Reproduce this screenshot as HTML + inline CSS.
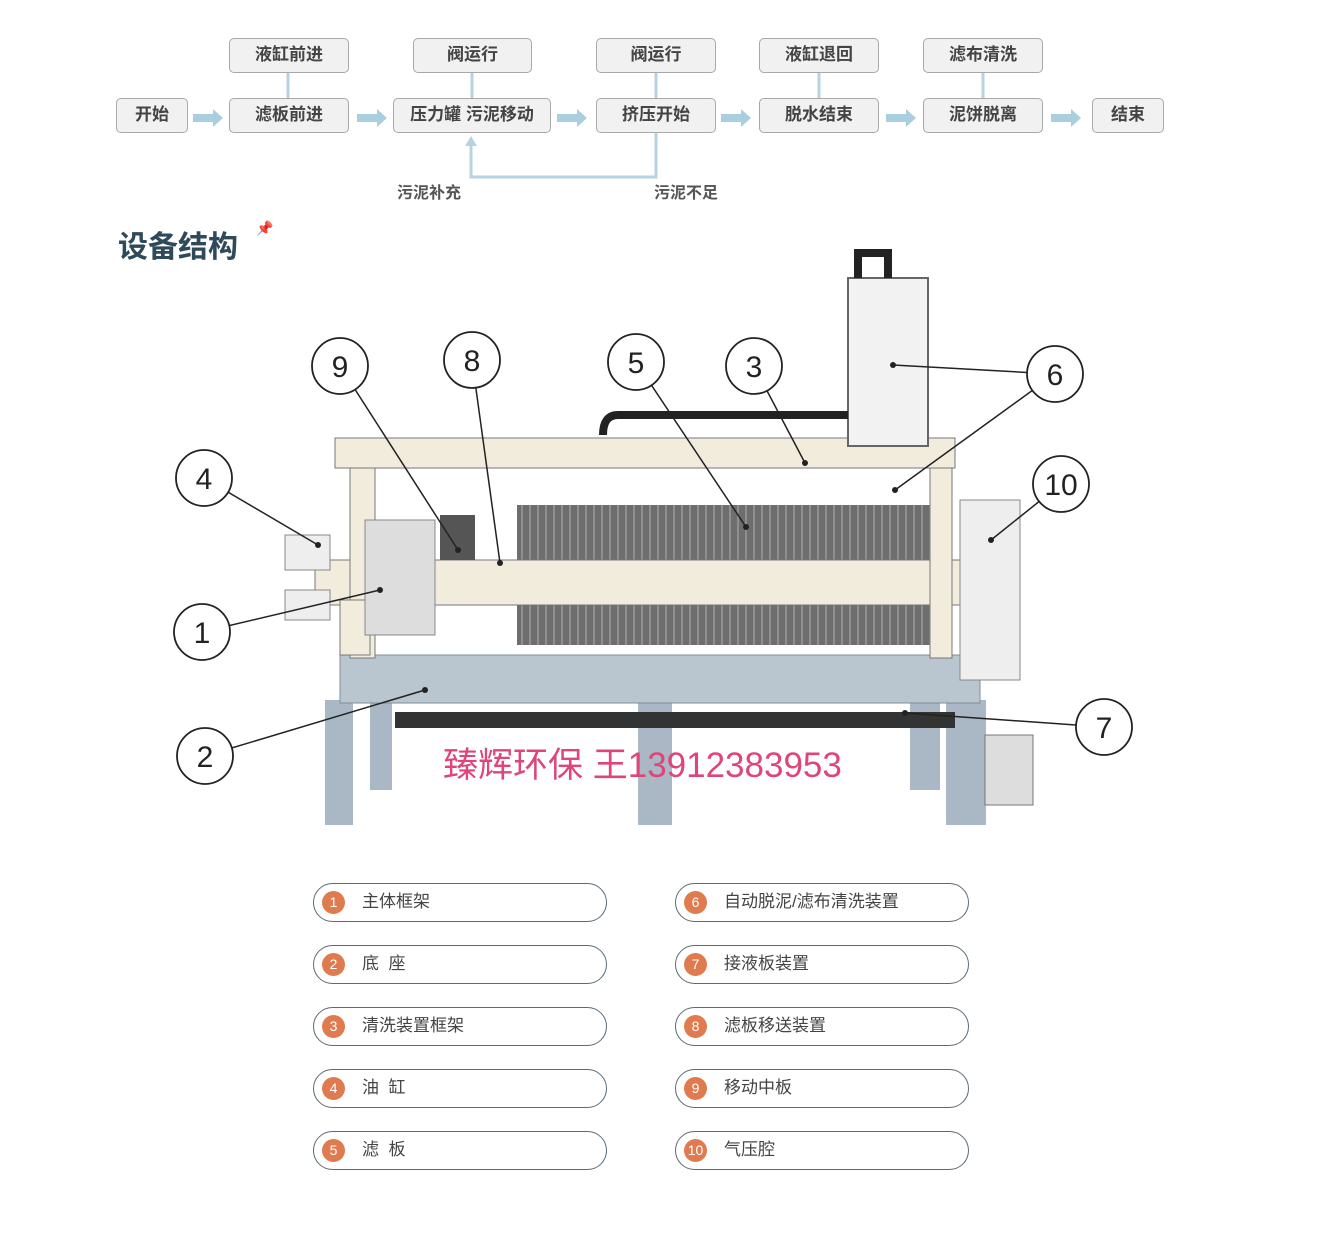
<!DOCTYPE html>
<html><head><meta charset="utf-8"><style>
body{margin:0;width:1344px;height:1241px;background:#fff;position:relative;font-family:"Liberation Sans","Noto Sans CJK SC",sans-serif;overflow:hidden}
.b{position:absolute;box-sizing:border-box;border:1.5px solid #a8a8a8;border-radius:5px;background:#f1f1f1;color:#444;font-weight:bold;font-size:17px;text-align:center;line-height:32px;height:35px}
.t{position:absolute;height:34px;line-height:31px}
.p{position:absolute;box-sizing:border-box;width:294px;height:39px;border:1.5px solid #5a6a78;border-radius:20px;font-size:17px;color:#444;line-height:36px;padding-left:48px}
.p i{position:absolute;left:8px;top:7px;width:23px;height:23px;border-radius:50%;background:#e07a4f;color:#fff;font-style:normal;font-size:14px;line-height:23px;text-align:center;}
.lab{position:absolute;font-size:16px;font-weight:bold;color:#555}
</style></head><body>
<svg width="1344" height="1241" style="position:absolute;left:0;top:0">
<g stroke="#b5d3e0" stroke-width="3">
<line x1="288" y1="72" x2="288" y2="98"/><line x1="472" y1="72" x2="472" y2="98"/><line x1="656" y1="72" x2="656" y2="98"/><line x1="819" y1="72" x2="819" y2="98"/><line x1="983" y1="72" x2="983" y2="98"/>
<polyline fill="none" points="656,133 656,177 471,177 471,144"/>
</g>
<polygon points="465,146 471,136 477,146" fill="#b5d3e0"/>
<g fill="#a9cfdf">
<path d="M193,114h20v-5l10,9l-10,9v-5h-20z"/>
<path d="M357,114h20v-5l10,9l-10,9v-5h-20z"/>
<path d="M557,114h20v-5l10,9l-10,9v-5h-20z"/>
<path d="M721,114h20v-5l10,9l-10,9v-5h-20z"/>
<path d="M886,114h20v-5l10,9l-10,9v-5h-20z"/>
<path d="M1051,114h20v-5l10,9l-10,9v-5h-20z"/>
</g>
<!-- machine -->
<g>
<rect x="325" y="700" width="28" height="125" fill="#a9b8c4"/>
<rect x="370" y="700" width="22" height="90" fill="#a9b8c4"/>
<rect x="638" y="700" width="34" height="125" fill="#a9b8c4"/>
<rect x="910" y="700" width="30" height="90" fill="#a9b8c4"/>
<rect x="946" y="700" width="40" height="125" fill="#a9b8c4"/>
<rect x="340" y="655" width="640" height="48" fill="#b9c6d0" stroke="#7d8d99"/>
<rect x="395" y="712" width="560" height="16" fill="#333"/>
<rect x="985" y="735" width="48" height="70" fill="#ddd" stroke="#777"/>
<rect x="517" y="505" width="423" height="140" fill="#6e6e6e"/>
<g stroke="#9a9a9a" stroke-width="1.5">
<path d="M522,505v140M530,505v140M538,505v140M546,505v140M554,505v140M562,505v140M570,505v140M578,505v140M586,505v140M594,505v140M602,505v140M610,505v140M618,505v140M626,505v140M634,505v140M642,505v140M650,505v140M658,505v140M666,505v140M674,505v140M682,505v140M690,505v140M698,505v140M706,505v140M714,505v140M722,505v140M730,505v140M738,505v140M746,505v140M754,505v140M762,505v140M770,505v140M778,505v140M786,505v140M794,505v140M802,505v140M810,505v140M818,505v140M826,505v140M834,505v140M842,505v140M850,505v140M858,505v140M866,505v140M874,505v140M882,505v140M890,505v140M898,505v140M906,505v140M914,505v140M922,505v140M930,505v140"/>
</g>
<rect x="315" y="560" width="685" height="45" fill="#f1ecdc" stroke="#777"/>
<rect x="335" y="438" width="620" height="30" fill="#f1ecdc" stroke="#777"/>
<rect x="350" y="468" width="25" height="190" fill="#f1ecdc" stroke="#777"/>
<rect x="930" y="468" width="22" height="190" fill="#f1ecdc" stroke="#777"/>
<rect x="340" y="600" width="30" height="55" fill="#f1ecdc" stroke="#777"/>
<rect x="285" y="535" width="45" height="35" fill="#eee" stroke="#888"/>
<rect x="285" y="590" width="45" height="30" fill="#eee" stroke="#888"/>
<rect x="365" y="520" width="70" height="115" fill="#ddd" stroke="#888"/>
<rect x="440" y="515" width="35" height="45" fill="#555"/>
<rect x="848" y="278" width="80" height="168" fill="#f2f2f2" stroke="#666" stroke-width="2"/>
<path d="M858,278v-25h30v25" fill="none" stroke="#222" stroke-width="8"/>
<path d="M848,415h-230q-15,0 -15,20" fill="none" stroke="#222" stroke-width="8"/>
<rect x="960" y="500" width="60" height="180" fill="#eee" stroke="#888"/>
</g>
<g stroke="#222" stroke-width="1.5" fill="none">
<line x1="340" y1="366" x2="458" y2="550"/><line x1="472" y1="360" x2="500" y2="563"/>
<line x1="636" y1="362" x2="746" y2="527"/><line x1="754" y1="366" x2="805" y2="463"/>
<line x1="1055" y1="374" x2="893" y2="365"/><line x1="1055" y1="374" x2="895" y2="490"/>
<line x1="1061" y1="484" x2="991" y2="540"/><line x1="1104" y1="727" x2="905" y2="713"/>
<line x1="204" y1="478" x2="318" y2="545"/><line x1="202" y1="632" x2="380" y2="590"/>
<line x1="205" y1="756" x2="425" y2="690"/>
</g>
<g fill="#fff" stroke="#222" stroke-width="1.8">
<circle cx="340" cy="366" r="28"/><circle cx="472" cy="360" r="28"/><circle cx="636" cy="362" r="28"/><circle cx="754" cy="366" r="28"/><circle cx="1055" cy="374" r="28"/><circle cx="1061" cy="484" r="28"/><circle cx="204" cy="478" r="28"/><circle cx="202" cy="632" r="28"/><circle cx="205" cy="756" r="28"/><circle cx="1104" cy="727" r="28"/>
</g>
<g font-size="30" text-anchor="middle" fill="#222" font-family="Liberation Sans,sans-serif">
<text x="340" y="377">9</text><text x="472" y="371">8</text><text x="636" y="373">5</text><text x="754" y="377">3</text><text x="1055" y="385">6</text><text x="1061" y="495">10</text><text x="204" y="489">4</text><text x="202" y="643">1</text><text x="205" y="767">2</text><text x="1104" y="738">7</text>
</g>
<g fill="#222"><circle cx="458" cy="550" r="3"/><circle cx="500" cy="563" r="3"/><circle cx="746" cy="527" r="3"/><circle cx="805" cy="463" r="3"/><circle cx="893" cy="365" r="3"/><circle cx="895" cy="490" r="3"/><circle cx="991" cy="540" r="3"/><circle cx="905" cy="713" r="3"/><circle cx="318" cy="545" r="3"/><circle cx="380" cy="590" r="3"/><circle cx="425" cy="690" r="3"/></g>
<text x="443" y="777" font-size="35" fill="#e0457a" font-family="Liberation Sans,Noto Sans CJK SC,sans-serif">臻辉环保 王13912383953</text>
</svg>
<div class="b" style="left:229px;top:38px;width:120px">液缸前进</div>
<div class="b" style="left:413px;top:38px;width:119px">阀运行</div>
<div class="b" style="left:596px;top:38px;width:120px">阀运行</div>
<div class="b" style="left:759px;top:38px;width:120px">液缸退回</div>
<div class="b" style="left:923px;top:38px;width:120px">滤布清洗</div>
<div class="b" style="left:116px;top:98px;width:72px">开始</div>
<div class="b" style="left:229px;top:98px;width:120px">滤板前进</div>
<div class="b" style="left:393px;top:98px;width:158px">压力罐 污泥移动</div>
<div class="b" style="left:596px;top:98px;width:120px">挤压开始</div>
<div class="b" style="left:759px;top:98px;width:120px">脱水结束</div>
<div class="b" style="left:923px;top:98px;width:120px">泥饼脱离</div>
<div class="b" style="left:1092px;top:98px;width:72px">结束</div>
<div class="lab" style="left:397px;top:179px">污泥补充</div>
<div class="lab" style="left:654px;top:179px">污泥不足</div>
<div style="position:absolute;left:118px;top:222px;font-size:30px;font-weight:bold;color:#2e4a5a">设备结构</div>
<div style="position:absolute;left:256px;top:220px;color:#e06040;font-size:14px">📌</div>
<div class="p" style="left:313px;top:883px"><i>1</i>主体框架</div>
<div class="p" style="left:313px;top:945px"><i>2</i>底&nbsp; 座</div>
<div class="p" style="left:313px;top:1007px"><i>3</i>清洗装置框架</div>
<div class="p" style="left:313px;top:1069px"><i>4</i>油&nbsp; 缸</div>
<div class="p" style="left:313px;top:1131px"><i>5</i>滤&nbsp; 板</div>
<div class="p" style="left:675px;top:883px"><i>6</i>自动脱泥/滤布清洗装置</div>
<div class="p" style="left:675px;top:945px"><i>7</i>接液板装置</div>
<div class="p" style="left:675px;top:1007px"><i>8</i>滤板移送装置</div>
<div class="p" style="left:675px;top:1069px"><i>9</i>移动中板</div>
<div class="p" style="left:675px;top:1131px"><i>10</i>气压腔</div>
</body></html>
